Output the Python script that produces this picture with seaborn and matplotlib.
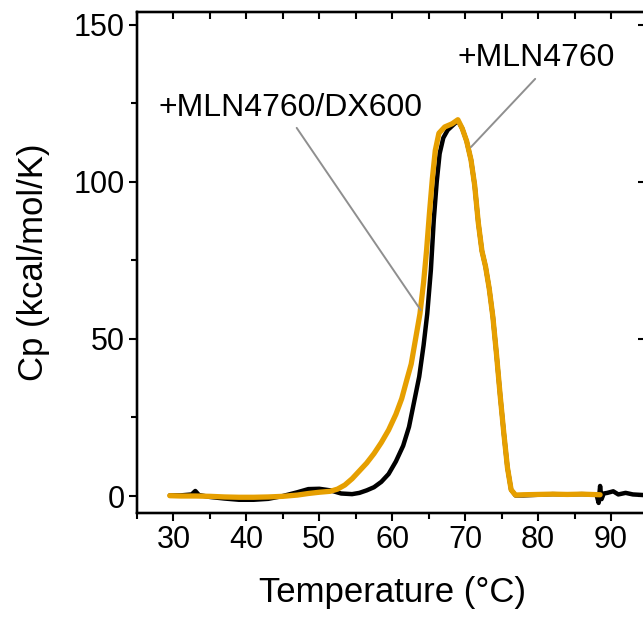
# thermogrammes DSC : Cp en fonction de la temperature
import matplotlib
matplotlib.use("Agg")
import matplotlib.pyplot as plt
import seaborn as sns
from matplotlib.ticker import MultipleLocator, NullLocator

# courbe noire (+MLN4760)
temp_mln = [29.5, 31, 32.5, 33, 33.5, 35, 37, 39, 41, 43, 45, 47, 48.5, 50, 51.5, 53,
            54.5, 55.5, 56.5, 57.5, 58.5, 59.5, 60.5, 61.5, 62.3, 63, 63.7, 64.3, 64.8,
            65.3, 65.7, 66.1, 66.5, 67, 67.6, 68.3, 69.0, 69.6, 70.2, 70.8, 71.3, 71.8,
            72.3, 72.8, 73.3, 73.8, 74.3, 74.8, 75.3, 75.8, 76.3, 76.9, 78, 80, 82, 84,
            86, 88, 88.3, 88.5, 88.7, 89, 89.5, 90.3, 91, 92, 93, 94.5]
cp_mln = [0.2, 0.2, 0.5, 1.6, 0.3, -0.3, -0.8, -1.2, -1.2, -0.9, 0.0, 1.2, 2.2, 2.3, 1.8, 0.8,
          0.6, 1.0, 1.8, 2.8, 4.5, 7.0, 11, 16, 22, 30, 38, 48, 58,
          72, 88, 100, 109, 114, 116.5, 118, 119.5, 117, 113, 107, 99, 87,
          78, 73, 66, 57, 45, 32, 20, 9, 2, 0.2, 0.2, 0.4, 0.6, 0.5,
          0.6, 0.5, -2.2, 3.2, -1.0, 0.8, 1.0, 1.5, 0.5, 1.0, 0.5, 0.3]

# courbe orange (+MLN4760/DX600)
temp_dx = [29.5, 31, 33, 35, 37, 39, 41, 43, 45, 47, 48.5, 50, 51.5, 52.5, 53.5, 54.5,
           55.5, 56.5, 57.5, 58.5, 59.5, 60.5, 61.3, 62, 62.6, 63.2, 63.8, 64.3, 64.7,
           65.1, 65.5, 65.9, 66.4, 67.2, 68.2, 69.0, 69.6, 70.2, 70.8, 71.3, 71.8, 72.3,
           72.8, 73.3, 73.8, 74.3, 74.8, 75.3, 75.8, 76.3, 76.9, 78, 80, 82, 84, 86, 88.5]
cp_dx = [0.1, 0.0, 0.0, -0.1, -0.3, -0.4, -0.4, -0.3, -0.1, 0.3, 0.8, 1.2, 1.5, 2.2, 3.5, 5.5,
         8, 10.5, 13.5, 17, 21, 26, 31, 37, 42, 50, 58, 68, 78,
         90, 101, 110, 115.5, 117.5, 118.5, 119.8, 117, 113, 107, 99, 87, 78,
         73, 66, 57, 45, 32, 20, 9, 2, 0.3, 0.4, 0.5, 0.6, 0.5, 0.6, 0.4]

# etiquettes et traits de rappel
labels = ["+MLN4760", "+MLN4760/DX600"]
label_xy = [(68.9, 139.5), (27.9, 123.6)]
leader_x = [(79.6, 70.8), (46.9, 63.9)]
leader_y = [(132.8, 111.1), (117.2, 59.2)]

sns.set_style("ticks")
plt.rcParams['font.family'] = ['Liberation Sans', 'DejaVu Sans']
plt.rcParams['text.color'] = 'black'
plt.rcParams['axes.labelcolor'] = 'black'
plt.rcParams['xtick.color'] = 'black'
plt.rcParams['ytick.color'] = 'black'
plt.rcParams['axes.edgecolor'] = 'black'

fig = plt.figure(figsize=(6.43, 6.17), dpi=100)
ax = fig.add_axes([0.213, 0.1686, 0.794, 0.812])

sns.lineplot(x=temp_mln, y=cp_mln, color="black", lw=3.2, ax=ax, sort=False)
sns.lineplot(x=temp_dx, y=cp_dx, color="#E69F00", lw=3.8, ax=ax, sort=False)

for txt, (tx, ty), lx, ly in zip(labels, label_xy, leader_x, leader_y):
    ax.plot(lx, ly, color="#8f8f8f", lw=1.4)
    ax.text(tx, ty, txt, fontsize=23, va="center", ha="left", color="black")

ax.set_xlim(25, 95)
ax.set_ylim(-5.4, 154.1)
ax.xaxis.set_major_locator(MultipleLocator(10))
ax.xaxis.set_minor_locator(MultipleLocator(5))
ax.yaxis.set_major_locator(MultipleLocator(50))
ax.yaxis.set_minor_locator(MultipleLocator(25))

for s in ax.spines.values():
    s.set_linewidth(1.6)
    s.set_visible(True)

ax.tick_params(axis="both", which="major", direction="out", length=6, width=1.5,
               labelsize=22, pad=3)
ax.tick_params(axis="both", which="minor", direction="out", length=4, width=1.5)

# ticks internes en haut (majeurs + mineurs) et a droite (majeurs)
ax_top = ax.twiny()
ax_top.set_xlim(ax.get_xlim())
ax_top.xaxis.set_major_locator(MultipleLocator(10))
ax_top.xaxis.set_minor_locator(MultipleLocator(5))
ax_top.tick_params(axis="x", which="both", direction="in", length=5, width=1.5,
                   top=True, bottom=False, labeltop=False, labelbottom=False)

ax_right = ax.twinx()
ax_right.set_ylim(ax.get_ylim())
ax_right.yaxis.set_major_locator(MultipleLocator(50))
ax_right.yaxis.set_minor_locator(NullLocator())
ax_right.tick_params(axis="y", which="both", direction="in", length=7, width=1.5,
                     right=True, left=False, labelright=False, labelleft=False)
for a in (ax_top, ax_right):
    for s in a.spines.values():
        s.set_linewidth(1.6)

ax.set_xlabel("Temperature (°C)", fontsize=25, labelpad=15)
ax.set_ylabel("Cp (kcal/mol/K)", fontsize=25, labelpad=17)

fig.savefig("out.png", dpi=100)
